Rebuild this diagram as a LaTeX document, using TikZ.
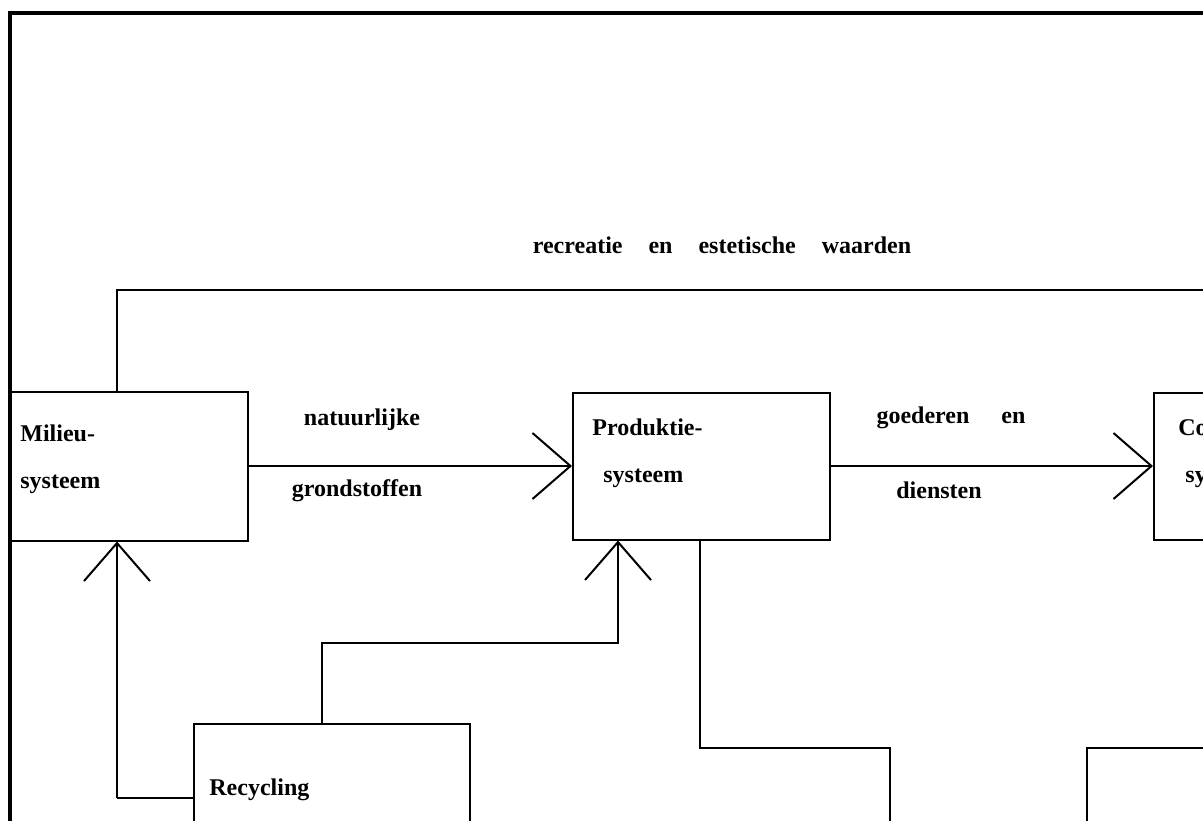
\documentclass[tikz,border=0pt]{standalone}
\usepackage{fontspec}
\setmainfont{Liberation Serif}
\usetikzlibrary{arrows.meta,positioning}

\tikzset{
  sysbox/.style={draw, line width=1pt, inner sep=0pt,
    minimum width=128.5pt, minimum height=73.5pt},
  boxtext/.style={anchor=west, align=left, inner sep=0pt,
    font=\bfseries\fontsize{12}{14}\selectfont},
  flowtext/.style={inner sep=0pt, font=\bfseries\fontsize{12}{14}\selectfont},
  conn/.style={line width=1pt, -{Straight Barb[length=19pt, width=33pt, line width=1pt]}},
  plain/.style={line width=1pt},
}

\begin{document}
\begin{tikzpicture}[x=0.5pt, y=-0.5pt]
    \useasboundingbox (0,0) rectangle (1203,820);
    \clip (0,0) rectangle (1203,820);
    % frame
    \draw[line width=2pt] (10,830) -- (10,13) -- (1210,13);
    % systems
    \node[sysbox, minimum width=118.5pt, minimum height=74.5pt] (milieu) at (129.5,466) {};
    \node[sysbox] (produktie) at (701.5,466) {};
    \node[sysbox] (consumptie) at (1282.5,466) {};
    \node[sysbox, minimum width=138pt] (recycling) at (332,797.5) {};
    \node[sysbox] (onder) at (1215.5,821.5) {};
    \node[boxtext] (milieutxt) at (20,459) {Milieu-\\[9.6pt]systeem};
    \node[boxtext] (produktietxt) at (592,453) {Produktie-\\[9.6pt]\hspace{5.5pt}systeem};
    \node[boxtext] (consumptietxt) at (1178,453) {Consumptie-\\[9.6pt]\hspace{3.5pt}systeem};
    \node[boxtext] (recyclingtxt) at (209,790) {Recycling};
    % labels
    \node[flowtext] (recreatie) at (722,245) {recreatie\hspace{13pt}en\hspace{13pt}estetische\hspace{13pt}waarden};
    \node[flowtext] (natuurlijke) at (362,420) {natuurlijke};
    \node[flowtext] (grondstoffen) at (357,491) {grondstoffen};
    \node[flowtext] (goederen) at (951,418) {goederen\hspace{16pt}en};
    \node[flowtext] (diensten) at (939,490) {diensten};
    % flows
    \coordinate (topleft) at (117,290);
    \coordinate (topright) at (1250,290);
    \coordinate (recl) at (117,796);
    \coordinate (reckink) at (322,643);
    \coordinate (prodin) at (618,643);
    \coordinate (prodout) at (700,748);
    \coordinate (down1) at (890,748);
    \coordinate (down1end) at (890,830);
    \draw[conn] (milieu.east) -- (produktie.west);
    \draw[conn] (produktie.east) -- (consumptie.west);
    \draw[plain] (milieu.north -| topleft) -- (topleft) -- (topright);
    \draw[conn] (recycling.west -| recl) -- (milieu.south -| recl);
    \draw[plain] (recycling.west) -- (recycling.west -| recl);
    \draw[conn] (recycling.north -| reckink) -- (reckink) -- (prodin) -- (produktie.south -| prodin);
    \draw[plain] (produktie.south -| prodout) -- (prodout) -- (down1) -- (down1end);
\end{tikzpicture}
\end{document}
